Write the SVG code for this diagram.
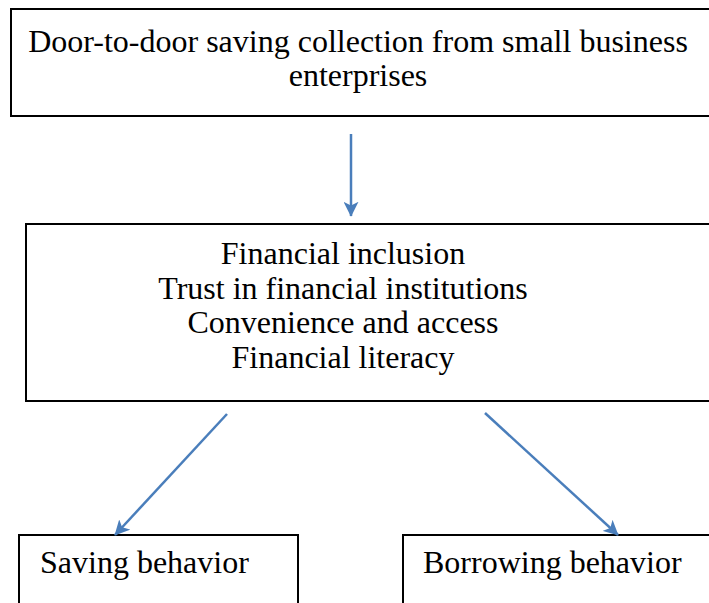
<svg xmlns="http://www.w3.org/2000/svg" width="709" height="603" viewBox="0 0 709 603">
  <defs>
    <style>
      .box { fill: #ffffff; stroke: #000000; stroke-width: 2; }
      .label { font-family: "Liberation Serif", "Times New Roman", serif; font-size: 32px; fill: #000000; }
      .mid { text-anchor: middle; }
      .link { stroke: #4a7ebb; stroke-width: 2.5; fill: none; marker-end: url(#head); }
    </style>
    <marker id="head" viewBox="0 0 10 10" refX="9.5" refY="5" markerWidth="15" markerHeight="15" markerUnits="userSpaceOnUse" orient="auto">
      <path d="M0,0 L10,5 L0,10 L2.5,5 Z" fill="#4a7ebb"/>
    </marker>
  </defs>
  <rect width="709" height="603" fill="#ffffff"/>

  <g id="collection">
    <rect class="box" x="11" y="9" width="710" height="107"/>
    <text class="label mid" x="358" y="52">Door-to-door saving collection from small business</text>
    <text class="label mid" x="358" y="86">enterprises</text>
  </g>

  <g id="factors">
    <rect class="box" x="26" y="224" width="700" height="177"/>
    <text class="label mid" x="343" y="264">Financial inclusion</text>
    <text class="label mid" x="343" y="299">Trust in financial institutions</text>
    <text class="label mid" x="343" y="333">Convenience and access</text>
    <text class="label mid" x="343" y="368">Financial literacy</text>
  </g>

  <g id="saving">
    <rect class="box" x="19" y="535" width="279" height="80"/>
    <text class="label" x="40" y="573">Saving behavior</text>
  </g>

  <g id="borrowing">
    <rect class="box" x="403" y="535" width="320" height="80"/>
    <text class="label" x="423" y="573">Borrowing behavior</text>
  </g>

  <g id="connectors">
    <line class="link" x1="351" y1="134" x2="351" y2="216"/>
    <line class="link" x1="227" y1="414" x2="115" y2="535"/>
    <line class="link" x1="485" y1="413" x2="618" y2="535"/>
  </g>
</svg>
